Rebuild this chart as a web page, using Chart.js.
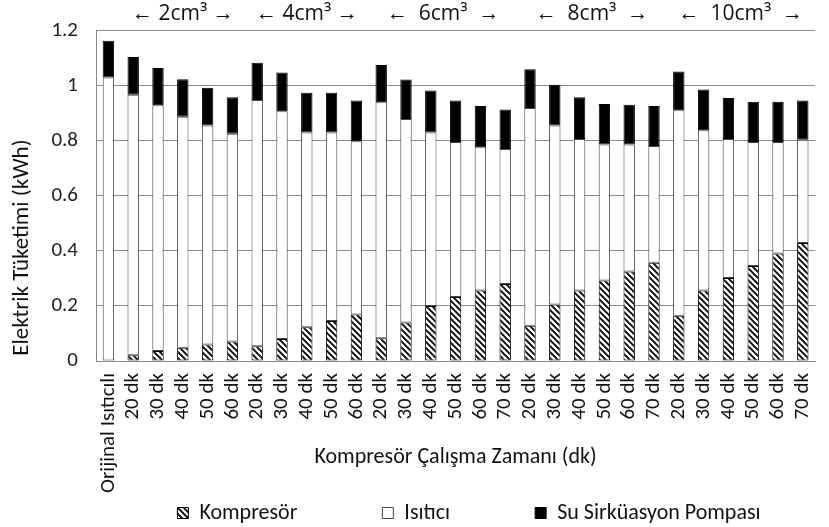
<!DOCTYPE html>
<html>
<head>
<meta charset="utf-8">
<script src="https://cdn.jsdelivr.net/npm/chart.js@4"></script>
<style>
  html, body { margin: 0; padding: 0; background: #fff; overflow: hidden; }
  #wrap { width: 832px; height: 527px; position: relative; }
</style>
</head>
<body>
<div id="wrap"><canvas id="myChart"></canvas></div>
<script>
const labels = ['Orijinal Isıtıcılı',
  '20 dk', '30 dk', '40 dk', '50 dk', '60 dk',
  '20 dk', '30 dk', '40 dk', '50 dk', '60 dk',
  '20 dk', '30 dk', '40 dk', '50 dk', '60 dk', '70 dk',
  '20 dk', '30 dk', '40 dk', '50 dk', '60 dk', '70 dk',
  '20 dk', '30 dk', '40 dk', '50 dk', '60 dk', '70 dk'];

// stacked segment values (kWh)
const kompresor = [0, 0.021, 0.036, 0.048, 0.06, 0.071, 0.054, 0.08, 0.123, 0.145, 0.169,
  0.083, 0.14, 0.2, 0.232, 0.256, 0.28, 0.128, 0.205, 0.256, 0.292, 0.325, 0.357,
  0.164, 0.256, 0.301, 0.345, 0.39, 0.429];
const isitici = [1.03, 0.946, 0.893, 0.839, 0.795, 0.754, 0.894, 0.827, 0.707, 0.685, 0.629,
  0.857, 0.739, 0.63, 0.563, 0.52, 0.49, 0.791, 0.65, 0.55, 0.494, 0.461, 0.424,
  0.747, 0.582, 0.505, 0.45, 0.405, 0.375];
const pompa = [0.133, 0.137, 0.135, 0.136, 0.137, 0.133, 0.135, 0.141, 0.144, 0.144, 0.148,
  0.135, 0.143, 0.152, 0.151, 0.15, 0.143, 0.141, 0.148, 0.152, 0.147, 0.145, 0.145,
  0.14, 0.148, 0.149, 0.147, 0.147, 0.142];

// hacim groups above the bars
const groupTexts = ['\u2190 2cm\u00b3 \u2192', '\u2190 4cm\u00b3 \u2192', '\u2190  6cm\u00b3  \u2192', '\u2190  8cm\u00b3  \u2192', '\u2190  10cm\u00b3  \u2192'];
const groupFirst = [1, 6, 11, 17, 23];
const groupLast = [5, 10, 16, 22, 28];

const FONT = 'Carlito, Calibri, Lato, sans-serif';
const WIDE = '"Open Sans", sans-serif';
const LEG_PAD = 85;

const ctx = document.getElementById('myChart').getContext('2d');

function makeHatch() {
  const c = document.createElement('canvas');
  c.width = 6; c.height = 6;
  const g = c.getContext('2d');
  g.fillStyle = '#fff';
  g.fillRect(0, 0, 6, 6);
  g.strokeStyle = '#000';
  g.lineWidth = 1.8;
  g.beginPath();
  g.moveTo(-1, -1); g.lineTo(7, 7);
  g.moveTo(-1, 5); g.lineTo(1, 7);
  g.moveTo(5, -1); g.lineTo(7, 1);
  g.stroke();
  return ctx.createPattern(c, 'repeat');
}

const groupLabels = {
  id: 'groupLabels',
  afterDraw(chart) {
    const x = chart.scales.x;
    const c = chart.ctx;
    c.save();
    c.font = '21px ' + WIDE;
    c.fillStyle = '#111';
    c.textAlign = 'center';
    c.textBaseline = 'middle';
    for (let i = 0; i < groupTexts.length; i++) {
      const mid = (x.getPixelForValue(groupFirst[i]) + x.getPixelForValue(groupLast[i])) / 2;
      c.fillText(groupTexts[i], mid, 14);
    }
    c.restore();
  }
};

// move the legend row to where the original puts it (text centre y = 513)
const shiftLegend = {
  id: 'shiftLegend',
  afterLayout(chart) {
    const lg = chart.legend;
    const dx = 53;
    lg.left += dx;
    lg.right += dx;
    lg.top = 513 - LEG_PAD - 11;
    lg.bottom = 527;
  }
};

const myChart = new Chart(ctx, {
  type: 'bar',
  data: {
    labels: labels,
    datasets: [{
      label: 'Kompresör',
      data: kompresor,
      backgroundColor: makeHatch(),
      borderColor: '#000',
      borderWidth: 1
    }, {
      label: 'Isıtıcı',
      data: isitici,
      backgroundColor: '#fff',
      borderColor: '#444',
      borderWidth: 1
    }, {
      label: 'Su Sirküasyon Pompası',
      data: pompa,
      backgroundColor: '#000',
      borderColor: '#000',
      borderWidth: 1
    }]
  },
  options: {
    responsive: true,
    maintainAspectRatio: false,
    animation: false,
    datasets: {
      bar: { barPercentage: 0.46, categoryPercentage: 1, borderSkipped: false }
    },
    layout: { padding: { top: 27, left: 0, right: 0, bottom: 0 } },
    scales: {
      x: {
        stacked: true,
        grid: { display: false },
        border: { color: '#888', width: 1 },
        ticks: {
          minRotation: 90, maxRotation: 90, autoSkip: false,
          padding: 4,
          color: '#111',
          font: { family: FONT, size: 21 }
        },
        title: {
          display: true,
          text: 'Kompresör Çalışma Zamanı (dk)',
          color: '#111',
          font: { family: FONT, size: 22 },
          padding: { top: 0, bottom: 40 }
        },
        afterFit(scale) { scale.height = 150; }
      },
      y: {
        stacked: true,
        min: 0,
        max: 1.2,
        ticks: {
          stepSize: 0.2,
          padding: 18,
          color: '#222',
          font: { family: FONT, size: 21 },
          callback: v => String(Number(v.toFixed(1)))
        },
        grid: { color: '#8c8c8c', lineWidth: 1, drawTicks: false },
        border: { color: '#888', width: 1 },
        title: {
          display: true,
          align: 'start',
          text: ' Elektrik Tüketimi (kWh)',
          color: '#111',
          font: { family: FONT, size: 23 },
          padding: { top: 8, bottom: 0 }
        },
        afterFit(scale) { scale.width = 96; }
      }
    },
    plugins: {
      tooltip: { enabled: false },
      legend: {
        position: 'bottom',
        maxHeight: 16,
        labels: {
          boxWidth: 11,
          boxHeight: 11,
          padding: LEG_PAD,
          color: '#111',
          font: { family: FONT, size: 22 }
        }
      }
    }
  },
  plugins: [groupLabels, shiftLegend]
});
</script>
</body>
</html>
